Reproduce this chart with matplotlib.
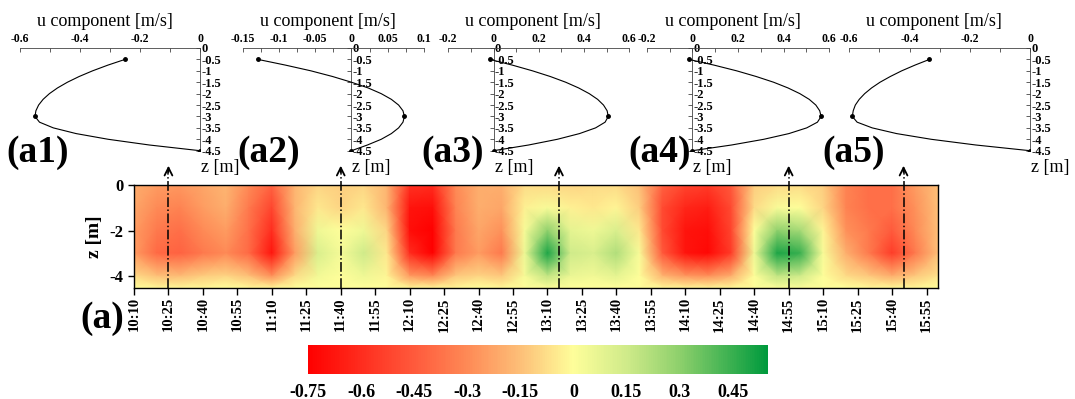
import matplotlib
matplotlib.use("Agg")

import numpy as np
import matplotlib.pyplot as plt
from matplotlib.colors import LinearSegmentedColormap, Normalize
from matplotlib.ticker import MultipleLocator, FuncFormatter

plt.rcParams['font.family'] = ['Liberation Serif', 'DejaVu Serif']
plt.rcParams['font.weight'] = 'bold'
plt.rcParams['axes.unicode_minus'] = False

# ---- heatmap data: u component [m/s] by time (columns) and depth (rows)
times = ["10:10", "10:20", "10:30", "10:40", "10:50", "11:00", "11:10", "11:20",
         "11:30", "11:40", "11:50", "12:00", "12:10", "12:20", "12:30", "12:40",
         "12:50", "13:00", "13:10", "13:20", "13:30", "13:40", "13:50", "14:00",
         "14:10", "14:20", "14:30", "14:40", "14:50", "15:00", "15:10", "15:20",
         "15:30", "15:40", "15:50", "16:00"]
depths = [0, -1, -2, -3, -4, -4.5]
u_0m = [-0.20, -0.25, -0.26, -0.22, -0.18, -0.30, -0.42, -0.18, -0.10, -0.12, -0.10, -0.18,
        -0.58, -0.60, -0.30, -0.20, -0.20, -0.08, -0.08, -0.10, -0.08, -0.08, -0.15, -0.42,
        -0.52, -0.55, -0.45, -0.12, -0.08, -0.08, -0.12, -0.32, -0.38, -0.38, -0.25, -0.15]
u_1m = [-0.22, -0.30, -0.32, -0.25, -0.20, -0.35, -0.52, -0.18, -0.05, -0.10, -0.05, -0.18,
        -0.68, -0.70, -0.32, -0.20, -0.22, -0.03, 0.02, -0.03, -0.05, -0.02, -0.12, -0.50,
        -0.62, -0.65, -0.50, -0.08, 0.02, 0.00, -0.10, -0.32, -0.38, -0.38, -0.28, -0.15]
u_2m = [-0.25, -0.35, -0.38, -0.30, -0.25, -0.38, -0.60, -0.20, 0.05, 0.00, 0.05, -0.10,
        -0.70, -0.75, -0.35, -0.22, -0.28, 0.02, 0.30, 0.08, 0.05, 0.12, -0.05, -0.50,
        -0.68, -0.70, -0.52, 0.00, 0.30, 0.25, -0.02, -0.28, -0.35, -0.45, -0.30, -0.15]
u_3m = [-0.25, -0.40, -0.42, -0.35, -0.30, -0.40, -0.68, -0.25, 0.12, 0.03, 0.15, -0.05,
        -0.60, -0.75, -0.35, -0.25, -0.35, 0.05, 0.50, 0.15, 0.12, 0.22, 0.02, -0.45,
        -0.68, -0.72, -0.55, 0.05, 0.50, 0.45, 0.02, -0.20, -0.35, -0.55, -0.35, -0.15]
u_4m = [-0.08, -0.15, -0.16, -0.12, -0.10, -0.15, -0.28, -0.08, 0.04, 0.00, 0.05, -0.02,
        -0.25, -0.30, -0.13, -0.10, -0.13, 0.02, 0.18, 0.06, 0.04, 0.08, 0.00, -0.18,
        -0.26, -0.28, -0.20, 0.00, 0.18, 0.15, 0.00, -0.08, -0.13, -0.20, -0.13, -0.06]
u_45m = [0.00, -0.02, -0.02, -0.02, 0.00, -0.02, -0.03, 0.00, 0.00, 0.00, 0.00, 0.00,
         -0.03, -0.03, -0.02, 0.00, -0.02, 0.00, 0.02, 0.00, 0.00, 0.00, 0.00, -0.02,
         -0.03, -0.03, -0.02, 0.00, 0.02, 0.02, 0.00, 0.00, -0.02, -0.02, -0.02, 0.00]
time_ticks = ["10:10", "10:25", "10:40", "10:55", "11:10", "11:25", "11:40", "11:55",
              "12:10", "12:25", "12:40", "12:55", "13:10", "13:25", "13:40", "13:55",
              "14:10", "14:25", "14:40", "14:55", "15:10", "15:25", "15:40", "15:55"]
cbar_ticks = [-0.75, -0.6, -0.45, -0.3, -0.15, 0, 0.15, 0.3, 0.45]

# ---- vertical profiles at selected times
profile_names = ["(a1)", "(a2)", "(a3)", "(a4)", "(a5)"]
profile_times = ["10:25", "11:40", "13:15", "14:55", "15:45"]
profile_z = [-0.5, -0.75, -1, -1.25, -1.5, -1.75, -2, -2.25, -2.5, -2.75, -3,
             -3.25, -3.5, -3.75, -4, -4.25, -4.5]
measured_z = [-0.5, -3, -4.5]
u_a1 = [-0.250, -0.307, -0.358, -0.403, -0.442, -0.475, -0.502, -0.523, -0.538, -0.547, -0.550,
        -0.535, -0.489, -0.413, -0.306, -0.169, 0.0]
u_a2 = [-0.129, -0.091, -0.056, -0.026, 0.000, 0.023, 0.041, 0.055, 0.065, 0.071, 0.073,
        0.071, 0.065, 0.055, 0.041, 0.022, 0.0]
u_a3 = [-0.016, 0.083, 0.172, 0.251, 0.319, 0.376, 0.423, 0.460, 0.486, 0.502, 0.507,
        0.493, 0.451, 0.380, 0.282, 0.155, 0.0]
u_a4 = [-0.015, 0.095, 0.194, 0.280, 0.356, 0.419, 0.471, 0.512, 0.541, 0.558, 0.564,
        0.548, 0.501, 0.423, 0.313, 0.172, 0.0]
u_a5 = [-0.334, -0.382, -0.426, -0.464, -0.498, -0.526, -0.549, -0.567, -0.580, -0.587, -0.590,
        -0.574, -0.524, -0.443, -0.328, -0.180, 0.0]
profiles = [u_a1, u_a2, u_a3, u_a4, u_a5]

W, H = 1075, 399


def px_rect(x0, y0, x1, y1):
    """pixel box (top-left origin) -> figure fraction rect"""
    return [x0 / W, 1 - y1 / H, (x1 - x0) / W, (y1 - y0) / H]


def minutes(s):
    h, m = s.split(":")
    return int(h) * 60 + int(m) - 610      # minutes after 10:10


fmt = FuncFormatter(lambda v, _: f"{v:g}")

# colormap: red -> orange -> pale yellow (at 0) -> green
vmin, vmax = -0.75, 0.55
anchors = [(-0.75, "#ff0000"), (-0.45, "#ff5a3c"), (-0.3, "#fe8a56"), (-0.15, "#fdbf78"),
           (0.0, "#fefe9a"), (0.15, "#d0eb8a"), (0.3, "#8ed06c"), (0.55, "#009a3d")]
cmap = LinearSegmentedColormap.from_list(
    "ryg", [((v - vmin) / (vmax - vmin), c) for v, c in anchors])
norm = Normalize(vmin, vmax)

fig = plt.figure(figsize=(W / 100, H / 100), dpi=100)

# ---- main heatmap
ax = fig.add_axes(px_rect(134, 185, 938, 287.5))
tx = np.array([minutes(t) for t in times])
X, Y = np.meshgrid(tx, depths)
C = np.array([u_0m, u_1m, u_2m, u_3m, u_4m, u_45m])
mesh = ax.pcolormesh(X, Y, C, shading="gouraud", cmap=cmap, norm=norm)
ax.set_xlim(0, 350)
ax.set_ylim(-4.5, 0)
ax.set_xticks([minutes(t) for t in time_ticks])
ax.set_xticklabels(time_ticks, rotation=90, fontsize=10.5)
ax.set_yticks([0, -2, -4])
ax.yaxis.set_major_formatter(fmt)
ax.tick_params(axis="y", labelsize=12, length=4, width=1)
ax.tick_params(axis="x", length=5, width=1, pad=2)
ax.set_ylabel("z [m]", fontsize=14, fontweight="bold", labelpad=5)
for sp in ax.spines.values():
    sp.set_linewidth(1.0)

# dash-dot markers with arrows for the profile times
for t in profile_times:
    x = minutes(t)
    ax.plot([x, x], [-4.5, 0.6], ls="-.", color="k", lw=1.1, clip_on=False, zorder=5)
    ax.annotate("", xy=(x, 0.97), xytext=(x, 0.45),
                arrowprops=dict(arrowstyle="->", color="k", lw=1.3, mutation_scale=14),
                annotation_clip=False)

fig.text(102 / W, 1 - 318 / H, "(a)", fontsize=27, ha="center", va="center")

# ---- colorbar
cax = fig.add_axes(px_rect(308, 345, 768, 374))
cb = fig.colorbar(mesh, cax=cax, orientation="horizontal", ticks=cbar_ticks)
cb.outline.set_visible(False)
cax.set_xticklabels([f"{v:g}" for v in cbar_ticks])
cax.tick_params(length=0, labelsize=13, pad=7)

# ---- profile panels
panel_px = [(20, 200), (242.7, 424), (448.3, 629.3), (646.7, 829.3), (849.3, 1030)]
panel_xlim = [(-0.6, 0), (-0.15, 0.1), (-0.2, 0.6), (-0.2, 0.6), (-0.6, 0)]
panel_step = [(0.2, 0.1), (0.05, 0.025), (0.2, 0.1), (0.2, 0.1), (0.2, 0.1)]
label_px = [(38, 152), (269, 152), (453, 152), (660, 152), (854, 152)]

for i, u in enumerate(profiles):
    x0, x1 = panel_px[i]
    pa = fig.add_axes(px_rect(x0, 48, x1, 150.7))
    pa.patch.set_alpha(0)
    z = np.array(profile_z)
    u = np.array(u)
    pa.plot(u, z, color="k", lw=0.8, zorder=3)
    m = np.isin(z, measured_z)
    pa.plot(u[m], z[m], "o", color="k", ms=2.5, zorder=4)
    pa.set_xlim(*panel_xlim[i])
    pa.set_ylim(-4.5, 0)
    pa.spines["left"].set_visible(False)
    pa.spines["bottom"].set_visible(False)
    pa.spines["right"].set_position(("data", 0))
    for sp in ("top", "right"):
        pa.spines[sp].set_linewidth(0.6)
        pa.spines[sp].set_color("#444444")
    pa.xaxis.set_ticks_position("top")
    pa.yaxis.set_ticks_position("right")
    pa.xaxis.set_major_locator(MultipleLocator(panel_step[i][0]))
    pa.xaxis.set_minor_locator(MultipleLocator(panel_step[i][1]))
    pa.yaxis.set_major_locator(MultipleLocator(0.5))
    pa.xaxis.set_major_formatter(fmt)
    pa.yaxis.set_major_formatter(fmt)
    pa.tick_params(axis="x", which="both", direction="in", length=3, width=0.6,
                   labelsize=8.5, pad=2, colors="#444444", labelcolor="k")
    pa.tick_params(axis="y", direction="in", length=3, width=0.6, labelsize=9,
                   pad=1, colors="#444444", labelcolor="k")
    pa.annotate("u component [m/s]", xy=(0.47, 1), xycoords="axes fraction",
                xytext=(0, 22), textcoords="offset pixels", ha="center",
                va="baseline", fontsize=13, fontweight="normal")
    pa.annotate("z [m]", xy=(0, -4.5), xycoords="data", xytext=(1, -8),
                textcoords="offset pixels", ha="left", va="top", fontsize=13,
                fontweight="normal", annotation_clip=False)
    lx, ly = label_px[i]
    fig.text(lx / W, 1 - ly / H, profile_names[i], fontsize=27, ha="center", va="center")

fig.savefig("out.png", dpi=100)
